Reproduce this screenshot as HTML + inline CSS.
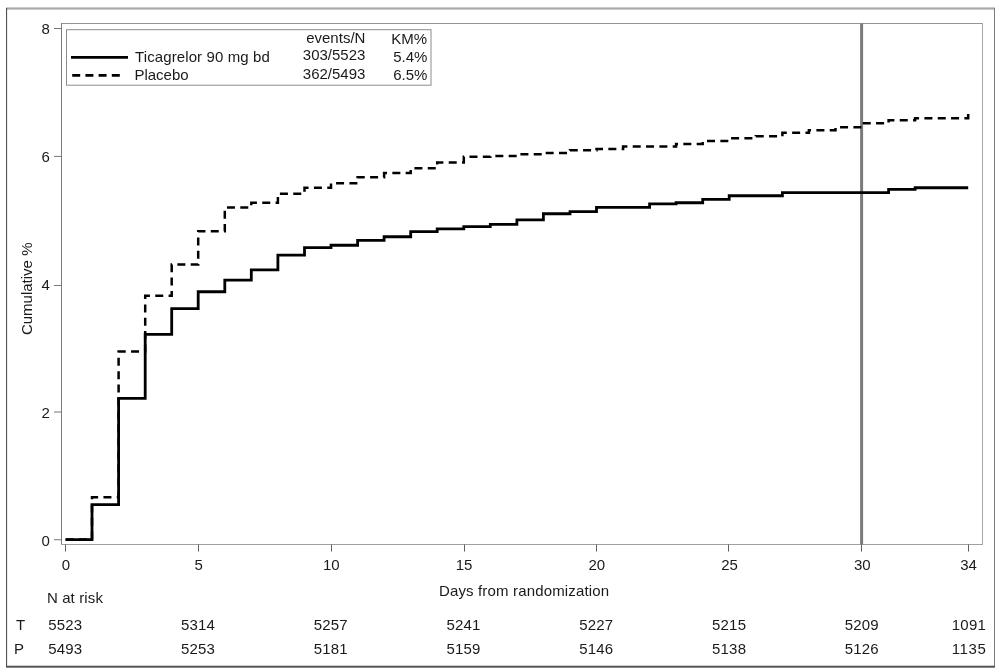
<!DOCTYPE html>
<html><head><meta charset="utf-8"><title>Kaplan-Meier</title>
<style>
html,body{margin:0;padding:0;background:#fff;}
body{width:1000px;height:671px;overflow:hidden;}
svg{display:block;}
text{font-family:"Liberation Sans",Arial,sans-serif;font-size:15px;fill:#1a1a1a;}
</style></head><body>
<svg width="1000" height="671" viewBox="0 0 1000 671">
<rect x="0" y="0" width="1000" height="671" fill="#fff"/>

<rect x="6" y="7.4" width="989" height="2.2" fill="#a9a9a9"/>
<rect x="6" y="8" width="1.1" height="659" fill="#505050"/>
<rect x="994" y="8" width="1" height="659" fill="#7c7c7c"/>
<rect x="6" y="665.7" width="989" height="2" fill="#555"/>
<rect x="61" y="23" width="922" height="1" fill="#959595"/>
<rect x="61" y="23" width="1" height="522" fill="#7d7d7d"/>
<rect x="982" y="23" width="1" height="522" fill="#a6a6a6"/>
<rect x="61" y="544" width="922" height="1" fill="#a0a0a0"/>
<rect x="860.1" y="23.5" width="3" height="521" fill="#7a7a7a"/>
<rect x="54" y="539.25" width="7.2" height="1" fill="#777"/>
<text x="49.8" y="545.8" text-anchor="end">0</text>
<rect x="54" y="411.50" width="7.2" height="1" fill="#777"/>
<text x="49.8" y="418.1" text-anchor="end">2</text>
<rect x="54" y="285.00" width="7.2" height="1" fill="#777"/>
<text x="49.8" y="290.3" text-anchor="end">4</text>
<rect x="54" y="155.90" width="7.2" height="1" fill="#777"/>
<text x="49.8" y="162.3" text-anchor="end">6</text>
<rect x="54" y="28.00" width="7.2" height="1" fill="#777"/>
<text x="49.8" y="33.8" text-anchor="end">8</text>
<rect x="65" y="544.5" width="1" height="7.1" fill="#606060"/>
<text x="65.8" y="570" text-anchor="middle">0</text>
<rect x="198" y="544.5" width="1" height="7.1" fill="#606060"/>
<text x="198.6" y="570" text-anchor="middle">5</text>
<rect x="331" y="544.5" width="1" height="7.1" fill="#606060"/>
<text x="331.3" y="570" text-anchor="middle">10</text>
<rect x="464" y="544.5" width="1" height="7.1" fill="#606060"/>
<text x="464.1" y="570" text-anchor="middle">15</text>
<rect x="596" y="544.5" width="1" height="7.1" fill="#606060"/>
<text x="596.8" y="570" text-anchor="middle">20</text>
<rect x="728" y="544.5" width="1" height="7.1" fill="#606060"/>
<text x="729.5" y="570" text-anchor="middle">25</text>
<rect x="861" y="544.5" width="1" height="7.1" fill="#606060"/>
<text x="862.3" y="570" text-anchor="middle">30</text>
<rect x="968" y="544.5" width="1" height="7.1" fill="#606060"/>
<text x="968.5" y="570" text-anchor="middle">34</text>
<text x="438.9" y="596" textLength="170.2" lengthAdjust="spacing">Days from randomization</text>
<text transform="translate(32.2,288.8) rotate(-90)" text-anchor="middle">Cumulative %</text>
<text x="46.9" y="602.9" textLength="56" lengthAdjust="spacing">N at risk</text>
<text x="16" y="629.8">T</text>
<text x="14" y="654.2">P</text>
<text x="65.2" y="629.8" text-anchor="middle" textLength="34" lengthAdjust="spacing">5523</text>
<text x="65.2" y="654.2" text-anchor="middle" textLength="34" lengthAdjust="spacing">5493</text>
<text x="197.9" y="629.8" text-anchor="middle" textLength="34" lengthAdjust="spacing">5314</text>
<text x="197.9" y="654.2" text-anchor="middle" textLength="34" lengthAdjust="spacing">5253</text>
<text x="330.7" y="629.8" text-anchor="middle" textLength="34" lengthAdjust="spacing">5257</text>
<text x="330.7" y="654.2" text-anchor="middle" textLength="34" lengthAdjust="spacing">5181</text>
<text x="463.4" y="629.8" text-anchor="middle" textLength="34" lengthAdjust="spacing">5241</text>
<text x="463.4" y="654.2" text-anchor="middle" textLength="34" lengthAdjust="spacing">5159</text>
<text x="596.2" y="629.8" text-anchor="middle" textLength="34" lengthAdjust="spacing">5227</text>
<text x="596.2" y="654.2" text-anchor="middle" textLength="34" lengthAdjust="spacing">5146</text>
<text x="729.0" y="629.8" text-anchor="middle" textLength="34" lengthAdjust="spacing">5215</text>
<text x="729.0" y="654.2" text-anchor="middle" textLength="34" lengthAdjust="spacing">5138</text>
<text x="861.7" y="629.8" text-anchor="middle" textLength="34" lengthAdjust="spacing">5209</text>
<text x="861.7" y="654.2" text-anchor="middle" textLength="34" lengthAdjust="spacing">5126</text>
<text x="968.8" y="629.8" text-anchor="middle" textLength="34" lengthAdjust="spacing">1091</text>
<text x="968.8" y="654.2" text-anchor="middle" textLength="34" lengthAdjust="spacing">1135</text>
<path d="M65.5 539.60 H92.0 V497.30 H118.6 V351.60 H145.2 V295.80 H171.7 V264.60 H198.2 V231.30 H224.8 V207.50 H251.3 V202.80 H277.9 V193.80 H304.5 V187.80 H331.0 V183.30 H357.6 V177.30 H384.1 V172.90 H410.7 V168.30 H437.2 V162.60 H463.8 V156.70 H490.3 V155.90 H516.9 V154.30 H543.4 V152.90 H570.0 V150.30 H596.5 V148.90 H623.1 V146.60 H649.6 H676.1 V143.90 H702.7 V140.90 H729.2 V138.30 H755.8 V136.30 H782.4 V132.70 H808.9 V130.30 H835.5 V127.30 H862.0 V123.30 H888.6 V120.30 H915.1 V118.30 H941.6 H968.2 V111.90" fill="none" stroke="#000" stroke-width="2.5" stroke-linejoin="miter" stroke-dasharray="8 5.333" stroke-dashoffset="13.1"/>
<path d="M65.5 539.60 H92.0 V504.55 H118.6 V398.35 H145.2 V334.35 H171.7 V308.55 H198.2 V291.75 H224.8 V280.15 H251.3 V269.85 H277.9 V255.15 H304.5 V247.55 H331.0 V245.25 H357.6 V240.35 H384.1 V236.75 H410.7 V231.55 H437.2 V228.95 H463.8 V226.55 H490.3 V224.35 H516.9 V219.95 H543.4 V213.75 H570.0 V211.55 H596.5 V207.35 H623.1 H649.6 V203.95 H676.1 V202.75 H702.7 V199.35 H729.2 V195.75 H755.8 H782.4 V192.65 H808.9 H835.5 H862.0 H888.6 V189.35 H915.1 V187.75 H941.6 H968.2" fill="none" stroke="#000" stroke-width="2.8" stroke-linejoin="miter"/>
<rect x="66.5" y="29.7" width="364.5" height="55.5" fill="#fff" stroke="#8c8c8c" stroke-width="1"/>
<line x1="71" y1="57.4" x2="128" y2="57.4" stroke="#000" stroke-width="2.6"/>
<line x1="72.2" y1="75.4" x2="121" y2="75.4" stroke="#000" stroke-width="2.6" stroke-dasharray="8 5.2"/>
<text x="135.0" y="62.4" textLength="134.8" lengthAdjust="spacing">Ticagrelor 90 mg bd</text>
<text x="134.4" y="80">Placebo</text>
<text x="365.4" y="42.5" text-anchor="end">events/N</text>
<text x="365.4" y="60.2" text-anchor="end">303/5523</text>
<text x="365.4" y="79" text-anchor="end">362/5493</text>
<text x="427" y="43.5" text-anchor="end">KM%</text>
<text x="427.4" y="62" text-anchor="end">5.4%</text>
<text x="427.4" y="80.3" text-anchor="end">6.5%</text>
</svg>
</body></html>
